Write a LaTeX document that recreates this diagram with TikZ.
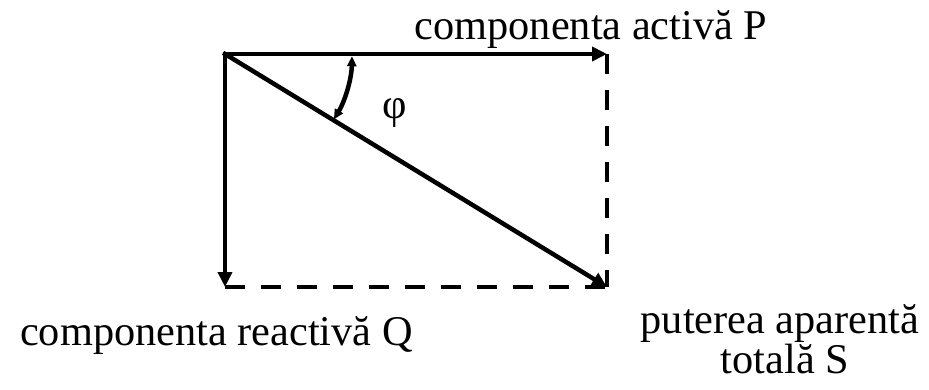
\documentclass[tikz,border=0pt]{standalone}
\usepackage{fontspec}
\setmainfont{Liberation Serif}
\usetikzlibrary{arrows.meta,positioning,calc}
\tikzset{
  vec/.style={-{Triangle[length=0.3cm, width=0.28cm]}, line width=0.09cm, line cap=rect},
  dashln/.style={line width=0.09cm, dash pattern=on 0.4cm off 0.32cm},
  anglearc/.style={{Triangle[length=0.2cm, width=0.18cm]}-{Triangle[length=0.2cm, width=0.18cm]}, line width=0.09cm},
  lbl/.style={font=\fontsize{24.1}{22.8}\selectfont, inner sep=0pt, anchor=base},
}

\begin{document}
\begin{tikzpicture}[x=0.02cm, y=0.02cm]
  \useasboundingbox (0,0) rectangle (929,389);
  % corners of the power triangle
  \coordinate (O) at (225,335);
  \coordinate (P) at (607,335);
  \coordinate (Q) at (225,102);
  \coordinate (S) at (607,102);
  % completing sides
  \draw[dashln] (P) -- (S);
  \draw[dashln] (Q) -- (S);
  % power vectors
  \draw[vec] (O) -- (P);
  \draw[vec] (O) -- (Q);
  \draw[vec] (O) -- (S);
  % phase angle
  \draw[anglearc] ($(O)+(-31:127)$) arc (-31:-1:127);
  \node[lbl, anchor=center] (phi) at (395,276) {φ};
  % labels
  \node[lbl] (lblP) at (591,349) {componenta activă P};
  \node[lbl] (lblQ) at (216.5,44) {componenta reactivă Q};
  \node[lbl] (lblS) at (780,56) {puterea aparentă};
  \node[lbl] (lblS2) at (785,16) {totală S};
\end{tikzpicture}
\end{document}
